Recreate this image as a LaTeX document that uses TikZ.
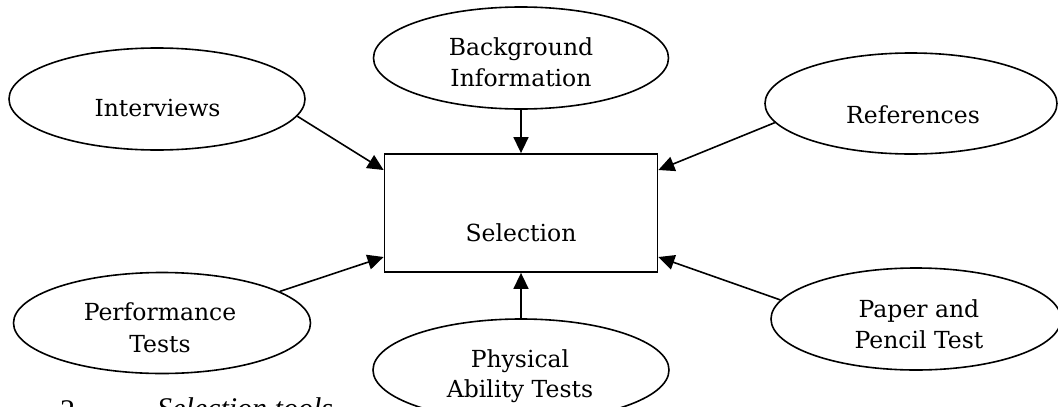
\documentclass[tikz,border=0pt]{standalone}
\usepackage{fontspec}
\setmainfont{DejaVu Serif}
\newfontfamily\capfont{Liberation Serif}
\usetikzlibrary{arrows.meta,shapes.geometric}
\tikzset{
  ell/.style={draw, line width=1.6pt, ellipse, inner sep=0pt},
  selbox/.style={draw, line width=1.8pt, rectangle, inner sep=0pt, minimum width=273pt, minimum height=118pt},
  txt/.style={font=\fontsize{23.5}{31}\selectfont, inner sep=0pt, anchor=base},
  captxt/.style={font=\capfont\fontsize{30}{36}\selectfont, inner sep=0pt, anchor=base west},
  conn/.style={line width=1.6pt, -{Triangle[length=16pt,width=15pt]}}
}
\begin{document}
\begin{tikzpicture}[x=1pt,y=-1pt]
\useasboundingbox (0,0) rectangle (1058,407);
\clip (0,0) rectangle (1058,407);
\fill[white] (0,0) rectangle (1058,407);
% center box
\node[selbox] (sel) at (521,213) {};
\node[txt] (selt) at (521,241) {Selection};
% ellipses
\node[ell, minimum width=296pt, minimum height=102pt] (int) at (157,99) {};
\node[ell, minimum width=295pt, minimum height=102pt] (bg) at (521,58) {};
\node[ell, minimum width=292pt, minimum height=101pt] (ref) at (911,103.5) {};
\node[ell, minimum width=297pt, minimum height=101pt] (perf) at (162,323) {};
\node[ell, minimum width=296pt, minimum height=102pt] (phys) at (521,370) {};
\node[ell, minimum width=290pt, minimum height=102pt] (pap) at (916,319) {};
% texts
\node[txt] (intt) at (157.5,116) {Interviews};
\node[txt] (bgt1) at (521,55) {Background};
\node[txt] (bgt2) at (521,86) {Information};
\node[txt] (reft) at (913,123) {References};
\node[txt] (perft1) at (160,320) {Performance};
\node[txt] (perft2) at (160,352) {Tests};
\node[txt] (papt1) at (919,317) {Paper and};
\node[txt] (papt2) at (919,348) {Pencil Test};
\node[txt] (physt1) at (520,367) {Physical};
\node[txt] (physt2) at (520,397.5) {Ability Tests};
% connectors
\draw[conn] (int.-7) -- ([yshift=43pt]sel.west);
\draw[conn] (bg.south) -- (sel.north);
\draw[conn] (ref.188) -- ([yshift=43pt]sel.east);
\draw[conn] (perf.15.4) -- ([yshift=-44pt]sel.west);
\draw[conn] (phys.north) -- (sel.south);
\draw[conn] (pap.172.5) -- ([yshift=-44pt]sel.east);
% caption (cut off at the lower edge, as in the reference)
\node[captxt] (capn) at (60,420) {2};
\node[captxt, font=\capfont\itshape\fontsize{30}{36}\selectfont] (capt) at (157,418) {Selection tools};
\end{tikzpicture}
\end{document}
